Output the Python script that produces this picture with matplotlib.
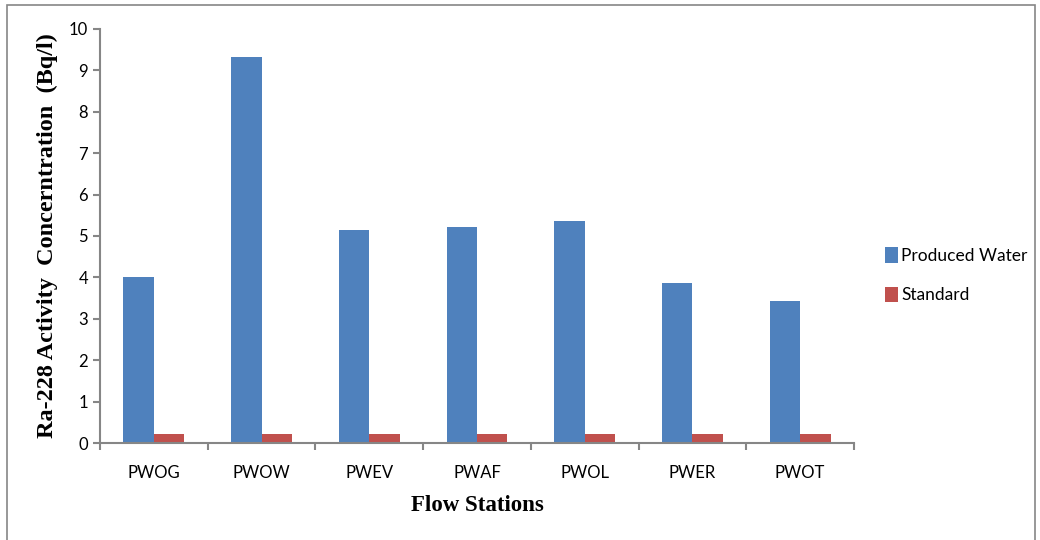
import numpy as np
import matplotlib
matplotlib.use("Agg")
import matplotlib.pyplot as plt
from matplotlib.patches import Rectangle

stations = ['PWOG', 'PWOW', 'PWEV', 'PWAF', 'PWOL', 'PWER', 'PWOT']
produced_water = [4.01, 9.32, 5.14, 5.22, 5.36, 3.86, 3.42]
standard = [0.22, 0.22, 0.22, 0.22, 0.22, 0.22, 0.22]
y_ticks = list(range(0, 11))

fig = plt.figure(figsize=(10.4, 5.4), dpi=100)
ax = fig.add_axes([100 / 1040, 97 / 540, 754 / 1040, 414 / 540])

x = np.arange(len(stations))
w = 0.283
ax.bar(x - w / 2, produced_water, w, color='#4f81bd', label='Produced Water')
ax.bar(x + w / 2, standard, w, color='#c0504d', label='Standard')

ax.set_xlim(-0.5, len(stations) - 0.5)
ax.set_ylim(0, 10)
ax.set_yticks(y_ticks)
ax.set_xticks(x)
ax.set_xticklabels(stations)
ax.set_xticks(np.arange(len(stations) + 1) - 0.5, minor=True)
ax.tick_params(axis='x', which='major', length=0, pad=16, labelsize=12)
ax.tick_params(axis='x', which='minor', length=5, color='#868686', width=1.5)
ax.tick_params(axis='y', length=5, color='#868686', width=1.5, labelsize=12)
for lab in ax.get_xticklabels() + ax.get_yticklabels():
    lab.set_family('Lato')

for s in ['top', 'right']:
    ax.spines[s].set_visible(False)
for s in ['left', 'bottom']:
    ax.spines[s].set_color('#868686')
    ax.spines[s].set_linewidth(1.5)

ax.set_ylabel('Ra-228 Activity  Concerntration  (Bq/l)', family='Liberation Serif',
              fontweight='bold', fontsize=17.5, labelpad=8)
ax.set_xlabel('Flow Stations', family='Liberation Serif', fontweight='bold',
              fontsize=16.5, labelpad=10)

ax.legend(loc='center left', bbox_to_anchor=(1.02, 0.405), frameon=False,
          prop={'family': 'Lato', 'size': 12.5}, handlelength=0.75, handleheight=1.0,
          handletextpad=0.2, labelspacing=1.3)

fig.patches.append(Rectangle((7 / 1040, -0.01), 1028 / 1040, 1.0 - 5 / 540 + 0.01,
                             transform=fig.transFigure, fill=False,
                             edgecolor='#868686', linewidth=1.2))

fig.savefig('out.png', dpi=100)
